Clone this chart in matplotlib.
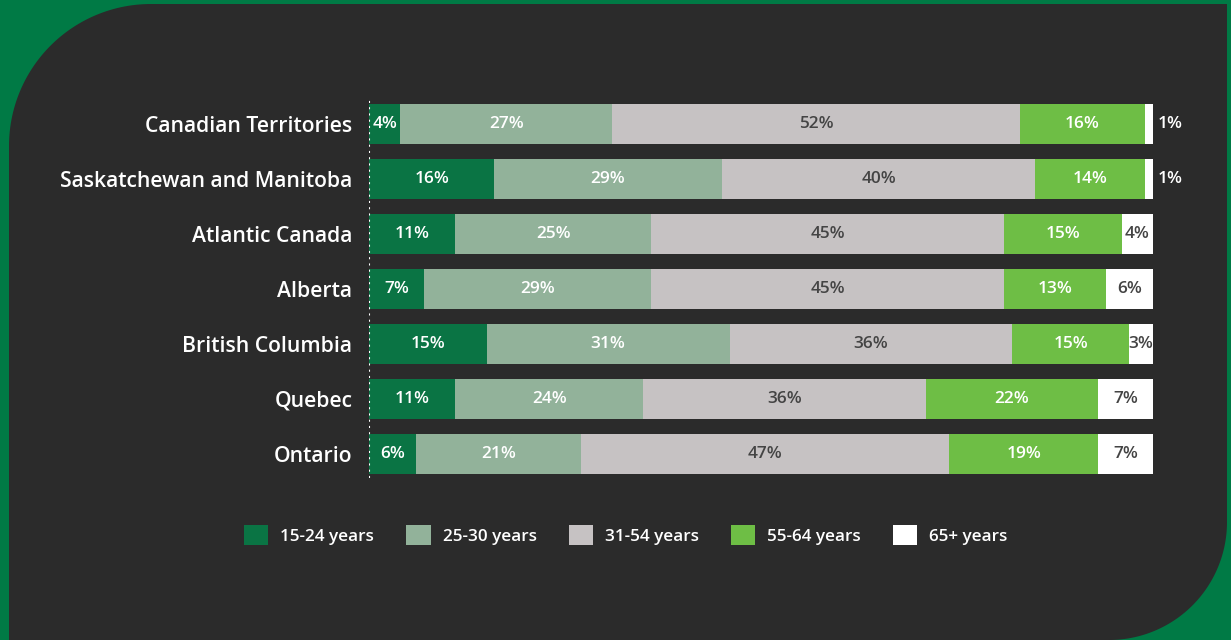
import numpy as np
import matplotlib
matplotlib.use("Agg")
import matplotlib.pyplot as plt
from matplotlib.patches import Polygon

plt.rcParams['font.family'] = ['Open Sans', 'DejaVu Sans']

# ---- data ----
regions = ["Canadian Territories", "Saskatchewan and Manitoba", "Atlantic Canada",
           "Alberta", "British Columbia", "Quebec", "Ontario"]
age_groups = ["15-24 years", "25-30 years", "31-54 years", "55-64 years", "65+ years"]
age_15_24 = [4, 16, 11, 7, 15, 11, 6]
age_25_30 = [27, 29, 25, 29, 31, 24, 21]
age_31_54 = [52, 40, 45, 45, 36, 36, 47]
age_55_64 = [16, 14, 15, 13, 15, 22, 19]
age_65_up = [1, 1, 4, 6, 3, 7, 7]
series = [age_15_24, age_25_30, age_31_54, age_55_64, age_65_up]

colors = ["#0a7444", "#92b29a", "#c6c2c3", "#6ebe45", "#ffffff"]
text_colors = ["white", "white", "#444444", "white", "#444444"]

W, H = 1231, 640
fig = plt.figure(figsize=(W / 100, H / 100), dpi=100)
fig.patch.set_facecolor("#007a45")

# dark rounded panel (pixel outline converted to figure fraction)
def arc(cx, cy, r, a0, a1, n=60):
    t = np.radians(np.linspace(a0, a1, n))
    return np.column_stack([cx + r * np.cos(t), cy + r * np.sin(t)])

left, right, top, bottom = 9, 1227, 4, 640
r_tl, r_br = 142, 118
pts = [[left, bottom]]
pts += list(arc(left + r_tl, top + r_tl, r_tl, 180, 270))
pts += [[right, top]]
pts += list(arc(right - r_br, bottom - r_br, r_br, 0, 90))
pts = np.array(pts, dtype=float)
pts[:, 0] /= W
pts[:, 1] = 1 - pts[:, 1] / H
fig.patches.append(Polygon(pts, closed=True, transform=fig.transFigure,
                           facecolor="#2b2b2b", edgecolor="none", zorder=0))

# bar axes
ax_l, ax_r = 369, 1153
ax_t, ax_b = 96.5, 481.5
ax = fig.add_axes([ax_l / W, 1 - ax_b / H, (ax_r - ax_l) / W, (ax_b - ax_t) / H])
ax.set_zorder(2)
ax.set_facecolor("none")
ax.set_xlim(0, 100)
ax.set_ylim(len(regions) - 0.5, -0.5)
for s in ax.spines.values():
    s.set_visible(False)
ax.set_xticks([])
ax.set_yticks(range(len(regions)))
ax.set_yticklabels(regions, color="white", fontsize=15.2, fontweight="semibold")
ax.tick_params(axis="y", length=0, pad=12)

y = np.arange(len(regions))
cum = np.zeros(len(regions))
for vals, col, tcol, name in zip(series, colors, text_colors, age_groups):
    vals = np.array(vals, dtype=float)
    ax.barh(y, vals, left=cum, height=0.727, color=col, label=name, zorder=2)
    for i, v in enumerate(vals):
        if v <= 1:
            ax.text(cum[i] + v + 0.6, i, f"{int(v)}%", color="white", ha="left",
                    va="center", fontsize=12.4, fontweight="semibold", zorder=4)
        else:
            ax.text(cum[i] + v / 2, i, f"{int(v)}%", color=tcol, ha="center",
                    va="center", fontsize=12.4, fontweight="semibold", zorder=4)
    cum += vals

ax.axvline(0, ymin=0.01, ymax=0.99, color="white", linestyle=(0, (1, 2)),
           linewidth=1.5, zorder=5)

leg = fig.legend(loc="center", bbox_to_anchor=(626 / W, 1 - 535 / H), ncol=5,
                 frameon=False, fontsize=12.3, handlelength=1.42, handleheight=1.42,
                 handletextpad=0.7, columnspacing=1.88, borderaxespad=0)
leg.set_zorder(3)
for t in leg.get_texts():
    t.set_color("white")
    t.set_fontweight("semibold")

fig.savefig("out.png", dpi=100, facecolor=fig.get_facecolor())
